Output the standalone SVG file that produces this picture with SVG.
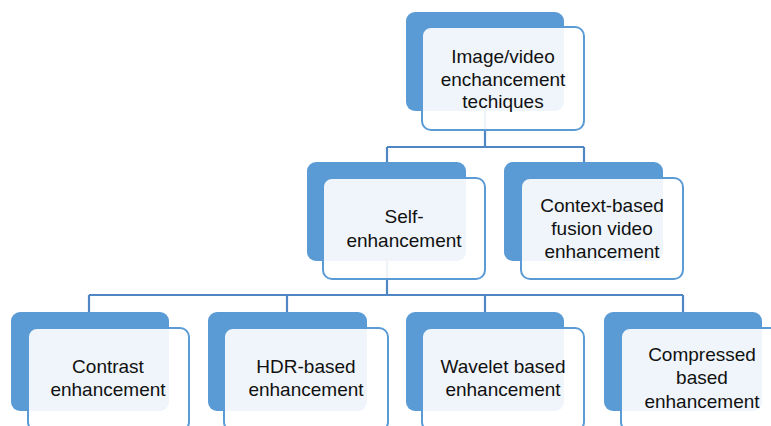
<svg xmlns="http://www.w3.org/2000/svg" width="771" height="426" viewBox="0 0 771 426">
<style>
.back{fill:#5b9bd5}
.front{fill:#ffffff;fill-opacity:0.9;stroke:#5b9bd5;stroke-width:2}
.conn{fill:none;stroke:#4f87c4;stroke-width:2.2}
text{font-family:"Liberation Sans",Arial,sans-serif;font-size:19px;fill:#111111;text-anchor:middle}
</style>
<rect width="771" height="426" fill="#ffffff"/>
<g id="connectors">
<path class="conn" d="M485 111 V147 M387 147 H584 M387 147 V162 M584 147 V162"/>
<path class="conn" d="M387 261 V295 M89 295 H683 M89 295 V312 M287 295 V312 M485 295 V312 M683 295 V312"/>
</g>
<g id="node-root">
<rect class="back" x="406" y="12" width="158" height="99" rx="9"/>
<rect class="front" x="422" y="27" width="162" height="103" rx="9"/>
<text x="503" y="63">Image/video</text>
<text x="503" y="86">enchancement</text>
<text x="503" y="108">techiques</text>
</g>
<g id="node-self">
<rect class="back" x="307" y="162" width="159" height="99" rx="9"/>
<rect class="front" x="323" y="178" width="162" height="101" rx="9"/>
<text x="404" y="223">Self-</text>
<text x="404" y="247">enhancement</text>
</g>
<g id="node-context">
<rect class="back" x="504" y="162" width="159" height="99" rx="9"/>
<rect class="front" x="521" y="178" width="162" height="101" rx="9"/>
<text x="602" y="212">Context-based</text>
<text x="602" y="235">fusion video</text>
<text x="602" y="258">enhancement</text>
</g>
<g id="node-contrast">
<rect class="back" x="11" y="312" width="158" height="99" rx="9"/>
<rect class="front" x="28" y="328" width="161" height="103" rx="9"/>
<text x="108" y="373">Contrast</text>
<text x="108" y="396">enhancement</text>
</g>
<g id="node-hdr">
<rect class="back" x="208" y="312" width="159" height="99" rx="9"/>
<rect class="front" x="224" y="328" width="164" height="103" rx="9"/>
<text x="306" y="373">HDR-based</text>
<text x="306" y="396">enhancement</text>
</g>
<g id="node-wavelet">
<rect class="back" x="406" y="312" width="158" height="99" rx="9"/>
<rect class="front" x="422" y="328" width="162" height="103" rx="9"/>
<text x="503" y="373">Wavelet based</text>
<text x="503" y="396">enhancement</text>
</g>
<g id="node-compressed">
<rect class="back" x="604" y="312" width="158" height="99" rx="9"/>
<rect class="front" x="621" y="328" width="162" height="103" rx="9"/>
<text x="702" y="361">Compressed</text>
<text x="702" y="384">based</text>
<text x="702" y="408">enhancement</text>
</g>
</svg>
